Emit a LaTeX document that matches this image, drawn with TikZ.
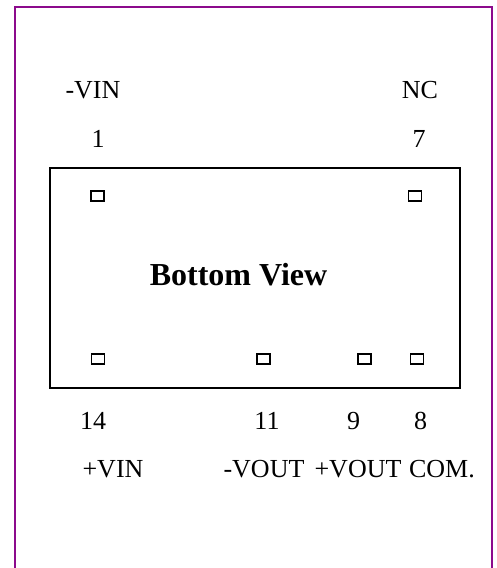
\documentclass[tikz,border=0pt]{standalone}
\usepackage{fontspec}
\setmainfont{Liberation Serif}
\usetikzlibrary{positioning}
\begin{document}
\begin{tikzpicture}[x=1pt,y=-1pt]
	\tikzstyle{Frame} = [draw={rgb,255:red,140;green,10;blue,140}, line width=1.9pt]
	\tikzstyle{Body} = [rectangle, draw=black, line width=1.2pt, minimum width=410pt, minimum height=220pt, inner sep=0pt]
	\tikzstyle{Pin} = [rectangle, draw=black, line width=1.5pt, minimum width=13pt, minimum height=10pt, inner sep=0pt]
	\tikzstyle{Label} = [font=\fontsize{26}{28}\selectfont, inner sep=0pt]

	\useasboundingbox (0,0) rectangle (497,568);
	\draw[Frame] (15,568) -- (15,7) -- (492,7) -- (492,568);

	\node (body) [Body] at (255,278) {};
	\node (title) [Label, font=\fontsize{32}{34}\selectfont\bfseries] at (238.5,275) {Bottom View};

	\node (pin1) [Pin] at (97.5,196) {};
	\node (pin7) [Pin] at (415,196) {};
	\node (pin14) [Pin] at (98,359) {};
	\node (pin11) [Pin] at (263.5,359) {};
	\node (pin9) [Pin] at (364.5,359) {};
	\node (pin8) [Pin] at (417,359) {};

	\node (vinm) [Label] at (93,90.5) {-VIN};
	\node (nc) [Label] at (420,90.5) {NC};
	\node (n1) [Label] at (98,139) {1};
	\node (n7) [Label] at (419,139) {7};
	\node (n14) [Label] at (93,421) {14};
	\node (n11) [Label] at (267,421) {11};
	\node (n9) [Label] at (353.5,421) {9};
	\node (n8) [Label] at (420.5,421) {8};
	\node (vinp) [Label] at (113,469) {+VIN};
	\node (voutm) [Label] at (264,469) {-VOUT};
	\node (voutp) [Label] at (358,469) {+VOUT};
	\node (com) [Label] at (442,469) {COM.};
\end{tikzpicture}
\end{document}
